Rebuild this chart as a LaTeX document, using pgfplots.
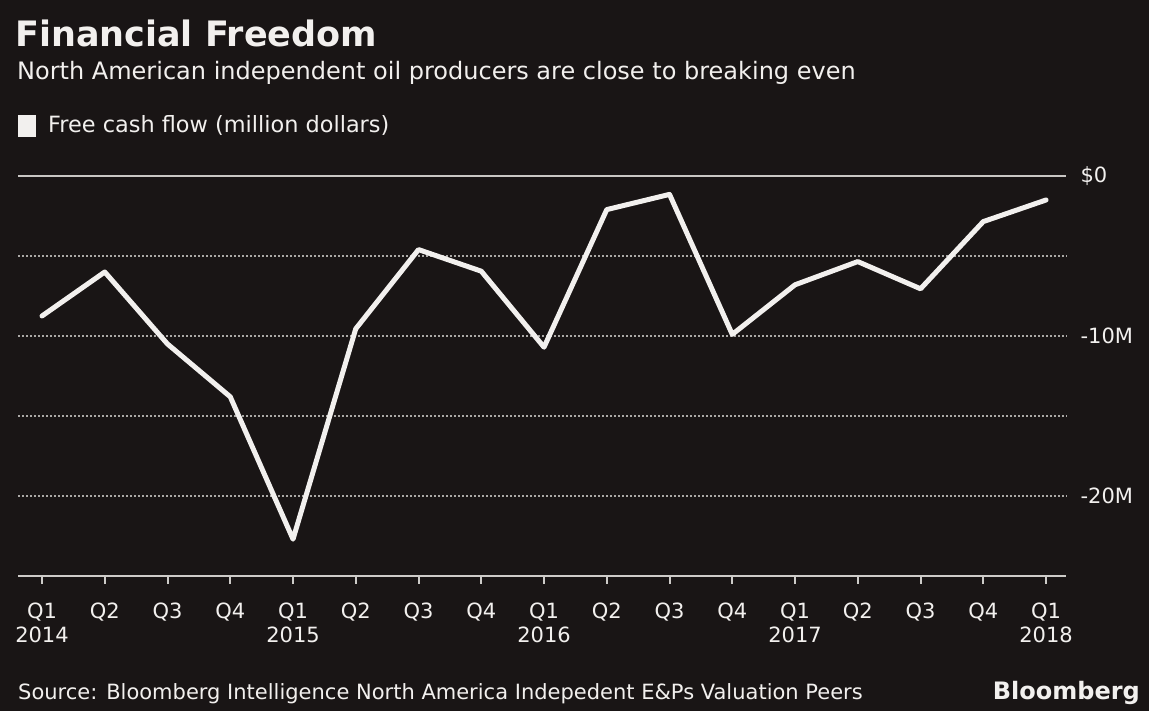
\documentclass[border=0pt]{standalone}
\usepackage{pgfplots}
\pgfplotsset{compat=1.18}
\usepackage{fontspec}
\setmainfont{DejaVu Sans}
\definecolor{bgc}{RGB}{25,21,21}
\definecolor{txt}{RGB}{242,240,238}
\definecolor{gridc}{RGB}{170,168,165}
\definecolor{zeroc}{RGB}{200,198,195}
\definecolor{axc}{RGB}{205,203,200}
\pgfplotstableread{
x y
0 -8.75
1 -6.0
2 -10.5
3 -13.8
4 -22.7
5 -9.55
6 -4.6
7 -5.95
8 -10.7
9 -2.1
10 -1.15
11 -9.9
12 -6.8
13 -5.35
14 -7.05
15 -2.85
16 -1.5
}\fcf
\begin{document}
\begin{tikzpicture}[x=1bp,y=1bp]
\fill[bgc] (0,0) rectangle (1149,711);
\path[use as bounding box] (0,0) rectangle (1149,711);
\node[anchor=base west, inner sep=0, text=txt, font=\fontsize{35bp}{38bp}\selectfont\bfseries] at (15,664) {Financial Freedom};
\node[anchor=base west, inner sep=0, text=txt, font=\fontsize{24bp}{28bp}\selectfont] at (17,631) {North American independent oil producers are close to breaking even};
\fill[txt] (18,574) rectangle (36,596);
\node[anchor=base west, inner sep=0, text=txt, font=\fontsize{22.4bp}{26bp}\selectfont] at (48,578) {Free cash flow (million dollars)};
\node[anchor=base west, inner sep=0, text=txt, font=\fontsize{21bp}{25bp}\selectfont] at (18,11) {Source: Bloomberg Intelligence North America Indepedent E\&Ps Valuation Peers};
\node[anchor=base east, inner sep=0, text=txt, font=\fontsize{24bp}{28bp}\selectfont\bfseries] at (1140,11) {Bloomberg};
\begin{axis}[
  at={(18bp,135bp)}, anchor=south west,
  scale only axis, width=1048bp, height=416bp,
  xmin=-0.3825, xmax=16.3187, ymin=-25, ymax=1,
  axis x line*=bottom, axis y line*=right,
  x axis line style={draw=axc, line width=2.5bp},
  y axis line style={draw=none},
  xtick={0,...,16},
  xticklabels={Q1\\2014,Q2,Q3,Q4,Q1\\2015,Q2,Q3,Q4,Q1\\2016,Q2,Q3,Q4,Q1\\2017,Q2,Q3,Q4,Q1\\2018},
  xticklabel style={align=center, text=txt, font=\fontsize{21bp}{24bp}\selectfont, anchor=north, yshift=-15bp},
  x tick style={draw=axc, line width=2bp},
  tick align=outside,
  major tick length=8bp,
  minor tick length=0bp,
  ytick={-20,-10},
  yticklabels={-20M,-10M},
  minor ytick={-15,-5},
  y tick style={draw=none},
  yticklabel style={anchor=west, text=txt, font=\fontsize{21bp}{25bp}\selectfont, xshift=3bp},
  ymajorgrids, yminorgrids,
  major grid style={draw=gridc, line width=2bp, dash pattern=on 2bp off 2bp},
  minor grid style={draw=gridc, line width=2bp, dash pattern=on 2bp off 2bp},
  extra y ticks={0},
  extra y tick labels={\$0},
  extra y tick style={major grid style={draw=zeroc, line width=2bp, solid}},
  clip=false,
]
\addplot[txt, line width=5bp, line join=round, line cap=round] table[x=x,y=y] {\fcf};
\end{axis}
\end{tikzpicture}
\end{document}
